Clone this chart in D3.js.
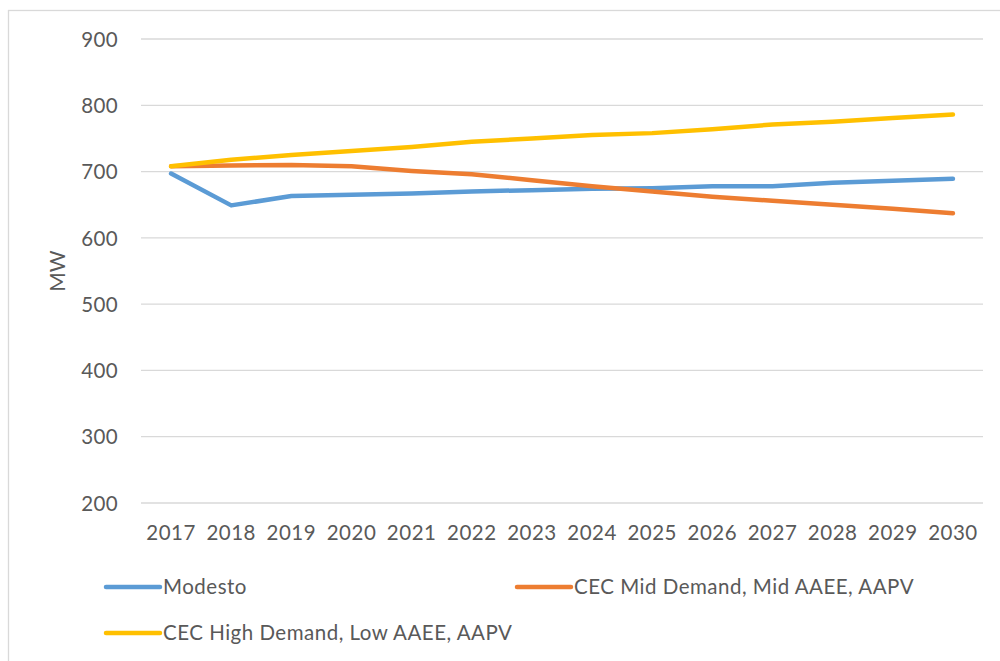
<!DOCTYPE html>
<html>
<head>
  <meta charset="utf-8">
  <title>Modesto demand forecast</title>
  <style>
  body { margin: 0; background: #fff; }
  text { font-family: Lato, "Open Sans", sans-serif; fill: #595959; }
  .grid line { stroke: #d9d9d9; stroke-width: 1.3px; }
  .series { fill: none; stroke-width: 4.5px; stroke-linecap: round; stroke-linejoin: round; }
  </style>
</head>
<body>
  <svg width="1000" height="661"></svg>
  <script src="https://d3js.org/d3.v7.min.js"></script>
  <script>
  // data
  var years = ["2017", "2018", "2019", "2020", "2021", "2022", "2023", "2024", "2025", "2026", "2027", "2028", "2029", "2030"];
  var modesto = [697, 649, 663, 665, 667, 670, 672, 674, 675, 678, 678, 683, 686, 689];
  var cecMid = [708, 709, 710, 708, 701, 696, 687, 678, 670, 662, 656, 650, 644, 637];
  var cecHigh = [708, 718, 725, 731, 737, 745, 750, 755, 758, 764, 771, 775, 781, 786];
  var yTicks = [200, 300, 400, 500, 600, 700, 800, 900];

  var series = [
    { name: "Modesto", values: modesto, color: "#5b9bd5" },
    { name: "CEC Mid Demand, Mid AAEE, AAPV", values: cecMid, color: "#ed7d31" },
    { name: "CEC High Demand, Low AAEE, AAPV", values: cecHigh, color: "#ffc000" }
  ];

  var svg = d3.select("svg");

  // chart area border (only top and left show inside the picture)
  svg.append("rect")
    .attr("x", 8.5).attr("y", 10.5)
    .attr("width", 1010).attr("height", 670)
    .attr("fill", "none")
    .attr("stroke", "#d9d9d9")
    .attr("stroke-width", 1.3);

  var plotLeft = 141, plotRight = 983, plotTop = 39, plotBottom = 503;

  var x = d3.scaleBand().domain(years).range([plotLeft, plotRight]);
  var y = d3.scaleLinear().domain([200, 900]).range([plotBottom, plotTop]);

  // gridlines
  svg.append("g")
    .attr("class", "grid")
    .selectAll("line")
    .data(yTicks)
    .enter()
    .append("line")
    .attr("x1", plotLeft).attr("x2", plotRight)
    .attr("y1", function(d) { return y(d); })
    .attr("y2", function(d) { return y(d); });

  // y axis labels
  var yAxis = svg.append("g")
    .attr("transform", "translate(" + (plotLeft - 23) + ",0)")
    .call(d3.axisLeft(y).tickValues(yTicks).tickSize(0).tickPadding(0));
  yAxis.select(".domain").remove();
  yAxis.selectAll("text")
    .attr("font-size", 20.5)
    .attr("fill", "#595959")
    .style("font-family", "Lato, sans-serif")
    .style("letter-spacing", "0.4px")
    .attr("dy", "0.35em");

  // x axis labels
  var xAxis = svg.append("g")
    .attr("transform", "translate(0," + (plotBottom + 30) + ")")
    .call(d3.axisBottom(x).tickSize(0).tickPadding(0));
  xAxis.select(".domain").remove();
  xAxis.selectAll("text")
    .attr("font-size", 20.5)
    .attr("fill", "#595959")
    .style("font-family", "Lato, sans-serif")
    .style("letter-spacing", "0.5px")
    .attr("dy", "0.35em");

  svg.append("text")
    .attr("transform", "translate(65,271) rotate(-90)")
    .attr("text-anchor", "middle")
    .attr("font-size", 21)
    .text("MW");

  var line = d3.line()
    .x(function(d, i) { return x(years[i]) + x.bandwidth() / 2; })
    .y(function(d) { return y(d); });

  svg.selectAll(".series")
    .data(series)
    .enter()
    .append("path")
    .attr("class", "series")
    .attr("stroke", function(d) { return d.color; })
    .attr("d", function(d) { return line(d.values); });

  // legend
  var legendPos = [[106, 587], [517, 587], [106, 633]];
  var legend = svg.selectAll(".legend")
    .data(series)
    .enter()
    .append("g")
    .attr("class", "legend")
    .attr("transform", function(d, i) { return "translate(" + legendPos[i][0] + "," + legendPos[i][1] + ")"; });

  legend.append("line")
    .attr("x1", 0).attr("x2", 54)
    .attr("stroke", function(d) { return d.color; })
    .attr("stroke-width", 4.5)
    .attr("stroke-linecap", "round");

  legend.append("text")
    .attr("x", 57)
    .attr("dy", "0.35em")
    .attr("font-size", 20.5)
    .style("letter-spacing", "0.5px")
    .text(function(d) { return d.name; });
  </script>
</body>
</html>
